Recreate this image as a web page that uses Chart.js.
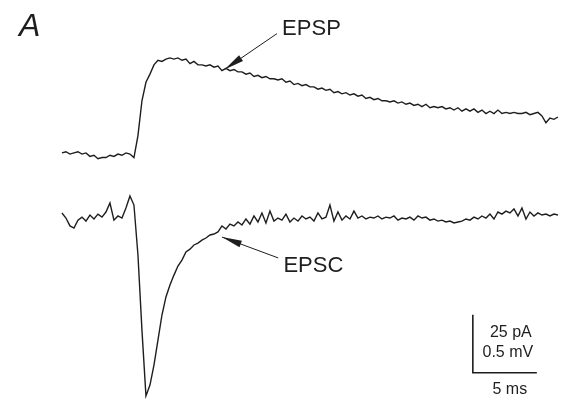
<!DOCTYPE html>
<html>
<head>
<meta charset="utf-8">
<script src="https://cdn.jsdelivr.net/npm/chart.js@4/dist/chart.umd.min.js"></script>
<style>
  html, body { margin: 0; padding: 0; background: #fff; }
  #wrap { width: 576px; height: 402px; position: relative; }
  #trace-chart { filter: blur(0.45px); }
</style>
</head>
<body>
<div id="wrap"><canvas id="trace-chart"></canvas></div>
<script>
// sampling interval of both recordings (ms)
const sampleMs = 0.3125;

// membrane potential, current clamp (mV, relative to rest)
const epspMV = [
  0.02, 0.03, 0.01, 0.02, 0.03, 0.01, 0.02, -0.01, 0.00, -0.03,
  -0.02, -0.02, 0.00, -0.01, 0.01, 0.00, 0.02, 0.01, -0.02, 0.17,
  0.47, 0.63, 0.70, 0.78, 0.82, 0.81, 0.83, 0.84, 0.83, 0.84,
  0.82, 0.83, 0.79, 0.81, 0.78, 0.78, 0.77, 0.78, 0.76, 0.77,
  0.73, 0.75, 0.73, 0.74, 0.72, 0.72, 0.70, 0.71, 0.68, 0.69,
  0.67, 0.68, 0.66, 0.66, 0.65, 0.66, 0.63, 0.64, 0.61, 0.62,
  0.60, 0.61, 0.59, 0.59, 0.57, 0.58, 0.56, 0.57, 0.54, 0.55,
  0.53, 0.54, 0.52, 0.53, 0.51, 0.52, 0.49, 0.50, 0.48, 0.49,
  0.47, 0.47, 0.46, 0.47, 0.45, 0.46, 0.44, 0.45, 0.43, 0.44,
  0.42, 0.44, 0.41, 0.42, 0.41, 0.42, 0.40, 0.41, 0.39, 0.41,
  0.38, 0.40, 0.38, 0.40, 0.37, 0.39, 0.36, 0.38, 0.36, 0.39,
  0.36, 0.37, 0.36, 0.37, 0.36, 0.36, 0.37, 0.35, 0.36, 0.37,
  0.34, 0.28, 0.32, 0.31, 0.33
];

// synaptic current, voltage clamp (pA)
const epscPA = [
  0.9, -1.3, -4.7, -5.6, -2.2, -0.9, -2.6, 0.0, -1.7, 0.4,
  -0.9, 1.3, 5.2, -2.2, -0.4, -1.3, 3.0, 8.2, 4.3, -17.2,
  -49.6, -78.0, -73.3, -64.7, -53.9, -43.1, -35.3, -30.2, -25.9, -22.0,
  -19.4, -15.9, -14.7, -12.9, -12.1, -10.8, -9.9, -8.6, -8.2, -7.3,
  -4.7, -6.0, -3.9, -4.7, -3.0, -4.3, -1.7, -3.9, -0.4, -3.0,
  0.9, -3.4, 1.7, -2.6, -1.3, -2.2, 0.4, -3.0, -1.3, -2.6,
  -0.4, -1.7, -0.9, -2.6, 0.9, -1.7, -0.9, 4.3, -2.6, 1.3,
  -2.2, -0.4, -1.7, 1.7, -1.3, -0.4, -1.7, -0.9, -1.3, -0.4,
  -1.7, -0.9, -1.3, -0.4, -2.2, -1.3, -1.7, -0.9, -2.2, -0.4,
  -1.3, -0.9, -2.2, -1.7, -2.6, -2.2, -3.0, -2.6, -3.4, -3.0,
  -2.6, -1.7, -2.2, -0.9, -1.7, -0.4, -1.3, 0.4, -1.7, 1.3,
  0.4, 1.7, 0.9, 2.6, -0.4, 3.0, -1.7, 1.3, -0.4, 0.9,
  0.0, 0.4, -0.4, 0.4, 0.0
];

// calibration bar
const scaleBarMs = 5;
const scaleBarPA = 25;
const scaleBarMV = 0.5;

const toPoints = values => values.map((v, i) => ({ x: i * sampleMs, y: v }));

const ink = '#1e1e1e';

// labels, arrows and calibration, placed in data units
const overlay = {
  id: 'overlay',
  afterDraw(chart) {
    const { ctx } = chart;
    const x = chart.scales.x;
    const yV = chart.scales.yV;
    const yI = chart.scales.yI;

    const arrow = (x0, y0, x1, y1) => {
      // line from (x0,y0) to tip (x1,y1) with a filled head
      const ang = Math.atan2(y1 - y0, x1 - x0);
      const len = 20, half = 3.5;
      ctx.beginPath();
      ctx.moveTo(x0, y0);
      ctx.lineTo(x1, y1);
      ctx.lineWidth = 1;
      ctx.strokeStyle = ink;
      ctx.stroke();
      ctx.beginPath();
      ctx.moveTo(x1, y1);
      ctx.lineTo(x1 - len * Math.cos(ang) - half * Math.sin(ang), y1 - len * Math.sin(ang) + half * Math.cos(ang));
      ctx.lineTo(x1 - len * Math.cos(ang) + half * Math.sin(ang), y1 - len * Math.sin(ang) - half * Math.cos(ang));
      ctx.closePath();
      ctx.fillStyle = ink;
      ctx.fill();
    };

    ctx.save();

    // panel letter
    ctx.fillStyle = ink;
    ctx.font = 'italic 32px "Liberation Sans", Arial, sans-serif';
    ctx.textAlign = 'left';
    ctx.textBaseline = 'alphabetic';
    ctx.fillText('A', 19, 36);

    // trace labels
    ctx.font = '22px "Liberation Sans", Arial, sans-serif';
    ctx.textBaseline = 'middle';
    ctx.fillText('EPSP', x.getPixelForValue(17.2), yV.getPixelForValue(1.09));
    ctx.fillText('EPSC', x.getPixelForValue(17.3), yI.getPixelForValue(-22));
    arrow(x.getPixelForValue(16.8), yV.getPixelForValue(1.05),
          x.getPixelForValue(12.7), yV.getPixelForValue(0.74));
    arrow(x.getPixelForValue(16.9), yI.getPixelForValue(-18.5),
          x.getPixelForValue(12.5), yI.getPixelForValue(-9.5));

    // calibration bar, corner at 32.1 ms / -68 pA
    const cx = x.getPixelForValue(32.1);
    const cy = yI.getPixelForValue(-68);
    const top = yI.getPixelForValue(-68 + scaleBarPA);
    const right = x.getPixelForValue(32.1 + scaleBarMs);
    ctx.beginPath();
    ctx.moveTo(cx, top);
    ctx.lineTo(cx, cy);
    ctx.lineTo(right, cy);
    ctx.lineWidth = 1.6;
    ctx.strokeStyle = ink;
    ctx.stroke();

    ctx.font = '16px "Liberation Sans", Arial, sans-serif';
    ctx.textAlign = 'center';
    ctx.fillText(scaleBarPA + ' pA', cx + 38, cy - 40);
    ctx.fillText(scaleBarMV + ' mV', cx + 35, cy - 20);
    ctx.fillText(scaleBarMs + ' ms', (cx + right) / 2 + 5, cy + 17);

    ctx.restore();
  }
};

new Chart(document.getElementById('trace-chart'), {
  type: 'line',
  data: {
    datasets: [
      {
        label: 'EPSP',
        data: toPoints(epspMV),
        yAxisID: 'yV',
        borderColor: ink,
        borderWidth: 1.4,
        pointRadius: 0,
        tension: 0
      },
      {
        label: 'EPSC',
        data: toPoints(epscPA),
        yAxisID: 'yI',
        borderColor: ink,
        borderWidth: 1.4,
        pointRadius: 0,
        tension: 0
      }
    ]
  },
  options: {
    responsive: true,
    maintainAspectRatio: false,
    animation: false,
    layout: { padding: 0 },
    plugins: {
      legend: { display: false },
      tooltip: { enabled: false }
    },
    scales: {
      x: { type: 'linear', display: false, min: -4.84, max: 40.16 },
      yV: { type: 'linear', display: false, min: -2.13, max: 1.34 },
      yI: { type: 'linear', display: false, min: -80.6, max: 92.7 }
    }
  },
  plugins: [overlay]
});
</script>
</body>
</html>
